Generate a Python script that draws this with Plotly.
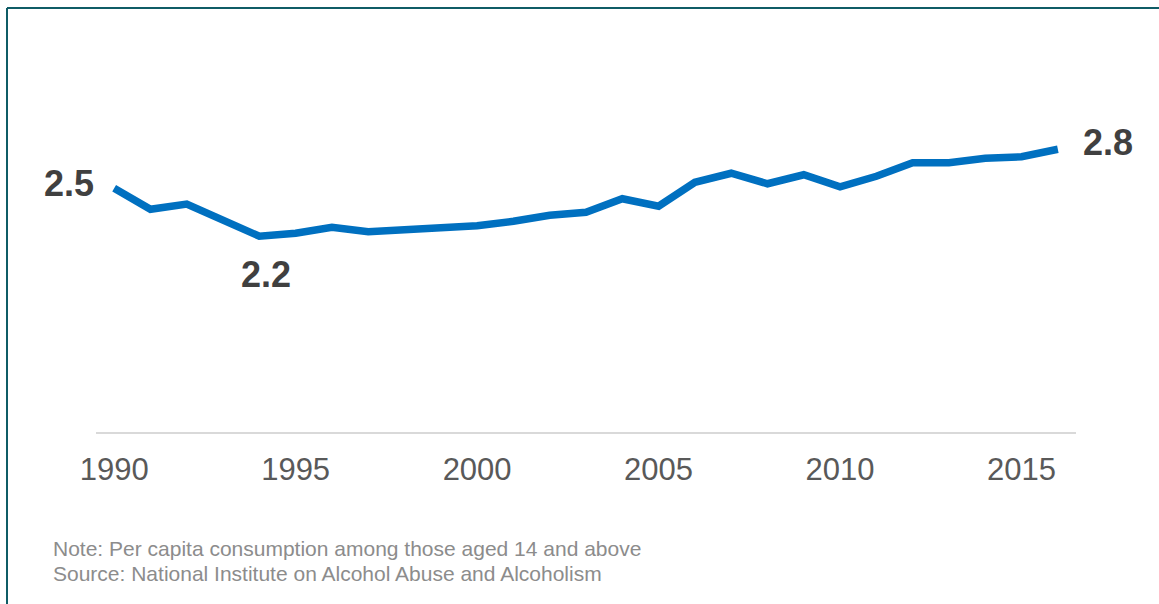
import plotly.graph_objects as go

years = list(range(1990, 2017))
values = [2.52, 2.38, 2.415, 2.31, 2.20, 2.22, 2.26, 2.23, 2.24, 2.26,
          2.27, 2.30, 2.34, 2.36, 2.45, 2.40, 2.56, 2.62, 2.55, 2.61,
          2.53, 2.60, 2.69, 2.69, 2.72, 2.73, 2.78]
tick_vals = [1990, 1995, 2000, 2005, 2010, 2015]
tick_text = ["1990", "1995", "2000", "2005", "2010", "2015"]
label_years = [1990, 1994, 2016]
label_text = ["2.5", "2.2", "2.8"]
notes = ["Note: Per capita consumption among those aged 14 and above",
         "Source: National Institute on Alcohol Abuse and Alcoholism"]

W, H = 1159, 604
ML, MR, MT, MB = 96, 83, 20, 172
PW, PH = W - ML - MR, H - MT - MB

def px_x(p):
    return (p - ML) / PW

def px_y(p):
    return (H - MB - p) / PH

FONT = "Arial, Liberation Sans, sans-serif"

fig = go.Figure()
fig.add_trace(go.Scatter(
    x=years, y=values, mode="lines",
    line=dict(color="#0070c0", width=7.5),
    hoverinfo="skip", showlegend=False,
))

shifts = {1990: (-45, 5, "center"), 1994: (7, -38, "center"), 2016: (50, 7, "center")}
for yr, txt in zip(label_years, label_text):
    v = values[years.index(yr)]
    dx, dy, xa = shifts[yr]
    fig.add_annotation(x=yr, y=v, xref="x", yref="y", text=txt, showarrow=False,
                       xshift=dx, yshift=dy, xanchor=xa, yanchor="middle",
                       font=dict(family=FONT, size=36, color="#404040", weight="bold"))

for i, t in enumerate(notes):
    fig.add_annotation(x=px_x(51), y=px_y(548 + 25 * i), xref="paper", yref="paper",
                       text=t, showarrow=False, xanchor="left", yanchor="middle",
                       font=dict(family=FONT, size=21, color="#8c8c8c"))

border = "#0f5c66"
fig.add_shape(type="line", xref="paper", yref="paper",
              x0=px_x(7), x1=px_x(W + 5), y0=px_y(8), y1=px_y(8),
              line=dict(color=border, width=2))
fig.add_shape(type="line", xref="paper", yref="paper",
              x0=px_x(7), x1=px_x(7), y0=px_y(8), y1=px_y(H + 5),
              line=dict(color=border, width=2))

fig.update_layout(
    width=W, height=H,
    margin=dict(l=ML, r=MR, t=MT, b=MB, pad=0),
    paper_bgcolor="white", plot_bgcolor="white",
    xaxis=dict(range=[1989.5, 2016.5], tickvals=tick_vals, ticktext=tick_text,
               showgrid=False, zeroline=False, showline=True,
               linecolor="#d9d9d9", linewidth=2, ticks="",
               tickfont=dict(family=FONT, size=31, color="#595959"),
               ticklabelstandoff=9),
    yaxis=dict(range=[0.895, 0.895 + PH / 150.0], visible=False,
               showgrid=False, zeroline=False),
)

fig.write_html("out.html")
